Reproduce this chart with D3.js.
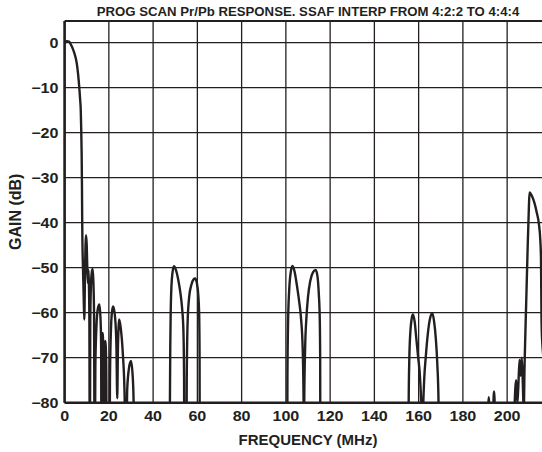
<!DOCTYPE html>
<html>
<head>
<meta charset="utf-8">
<script src="https://cdn.jsdelivr.net/npm/d3@7"></script>
<style>
  html, body { margin: 0; padding: 0; background: #fff; }
  svg { display: block; }
  text { font-family: "Liberation Sans", Arial, sans-serif; font-weight: bold; fill: #231f20; }
</style>
</head>
<body>
<svg id="chart" width="542" height="452"></svg>
<script>
// ---- data (frequency MHz, gain dB) ----
const passband = [[0,0],[1,0.3],[2,0.2],[3,-0.6],[3.9,-1.6],[4.8,-3],[5.5,-4.6],[6.1,-7],[6.6,-9.8],
  [7.0,-12.5],[7.3,-15],[7.5,-19],[7.7,-24.5],[7.85,-32],[7.95,-39.4]];
const nearStopband = [[8.05,-44],[8.3,-50],[8.6,-56],[8.9,-61.5],[9.2,-52],[9.45,-45],[9.7,-42.8],
  [10.0,-45],[10.3,-51],[10.6,-53.5],[10.8,-50.5],[11.0,-54],[11.2,-62],[11.4,-100],
  [11.6,-62],[11.9,-54],[12.3,-51],[12.7,-50.3],[13.0,-53],[13.3,-60],[13.6,-100],
  [13.9,-72],[14.4,-63],[15.0,-59.2],[15.7,-58.2],[16.2,-61],[16.5,-67],[16.7,-100],
  [16.9,-70],[17.2,-64.5],[17.5,-69],[17.7,-100],[18.0,-71],[18.4,-66.3],[18.8,-71],[19.1,-100],
  [20.3,-100],[20.5,-75],[21.0,-63],[21.5,-59.5],[22.0,-58.6],[22.8,-61],[23.4,-67],[23.8,-79],
  [24.1,-68],[24.7,-61.5],[25.4,-63.5],[26.3,-69],[27.1,-78],[27.7,-100],
  [28.3,-77],[29.2,-72],[30.0,-70.7],[30.7,-73.5],[31.2,-80],[31.4,-100]];
const lobes50 = [[47.4,-100],[47.6,-80],[47.75,-68],[47.95,-60],[48.3,-54],[48.8,-51],[49.4,-49.7],
  [50.3,-50.5],[51.3,-52.5],[52.3,-55.5],[53.1,-59],[53.7,-64],[54.0,-75],[54.1,-100],
  [55.0,-100],[55.2,-75],[55.6,-62],[56.3,-56.5],[57.3,-53.8],[58.3,-52.6],[59.0,-52.4],
  [59.8,-53.5],[60.4,-56],[60.8,-60],[61.0,-70],[61.1,-100]];
const lobes105 = [[100.6,-100],[100.7,-75],[101.0,-62],[101.5,-55],[102.2,-51],[103.0,-49.6],
  [104.0,-51],[105.0,-54],[106.0,-57.5],[106.8,-61],[107.6,-68],[108.0,-80],[108.1,-100],
  [108.15,-100],[108.3,-80],[108.7,-68],[109.3,-61],
  [110.0,-56.5],[111.0,-53],[112.3,-51],[113.5,-50.5],[114.3,-52],[114.9,-56],[115.3,-61],
  [115.5,-70],[115.6,-100]];
const lobes160 = [[155.4,-100],[155.5,-80],[155.8,-70],[156.3,-64],[156.8,-61.5],[157.4,-60.4],
  [158.2,-62],[159.0,-66],[159.8,-70],[160.7,-75],[161.4,-85],[161.5,-100],
  [161.8,-100],[161.9,-85],[162.5,-75],[163.2,-70],[164.2,-64.5],[165.2,-61.2],[166.2,-60.1],
  [167.0,-62],[167.8,-66],[168.4,-71],[169.0,-80],[169.2,-100]];
const imageBand = [[191.2,-100],[191.4,-84],[191.7,-78.8],[192.0,-84],[192.2,-100],
  [193.5,-100],[193.7,-82],[194.1,-77.5],[194.5,-84],[194.8,-100],
  [202.8,-100],[203.3,-82],[204.1,-75],[204.6,-80],[205.0,-77],[205.6,-70.5],[206.1,-74],
  [206.6,-70],[207.1,-76],[207.5,-82],[207.9,-71],[208.6,-58],[209.3,-45],[209.8,-37],
  [210.1,-33.3],[211.3,-34.2],[212.4,-35.7],[213.5,-38],[214.3,-40.1],[215.0,-44],
  [215.3,-48],[215.5,-60],[215.8,-66],[217,-72]];
const xTicks = [0,20,40,60,80,100,120,140,160,180,200];
const xGrid = [0,20,40,60,80,100,120,140,160,180,200,220];
const yTicks = [0,-10,-20,-30,-40,-50,-60,-70,-80];
const titleText = "PROG SCAN Pr/Pb RESPONSE. SSAF INTERP FROM 4:2:2 TO 4:4:4";
const xLabel = "FREQUENCY (MHz)";
const yLabel = "GAIN (dB)";

const series = [].concat(passband, nearStopband, [[32,-100],[47,-100]], lobes50,
  [[62,-100],[100,-100]], lobes105, [[116,-100],[155,-100]], lobes160, [[170,-100],[191,-100]], imageBand);

// ---- layout ----
const ink = "#231f20";
const svg = d3.select("#chart");
const x = d3.scaleLinear().domain([0, 220]).range([64.6, 551.4]);
const y = d3.scaleLinear().domain([-80, 4.8]).range([402.7, 21]);
const [x0, x1] = x.range();
const [yb, yt] = y.range();

// grid
const grid = svg.append("g").attr("stroke", ink).attr("stroke-width", 1.3);
grid.selectAll("line.v").data(xGrid).join("line").attr("class","v")
  .attr("x1", d => x(d)).attr("x2", d => x(d)).attr("y1", yt).attr("y2", yb);
grid.selectAll("line.h").data(yTicks).join("line").attr("class","h")
  .attr("x1", x0).attr("x2", x1).attr("y1", d => y(d)).attr("y2", d => y(d));

// curve
svg.append("defs").append("clipPath").attr("id","plotclip")
  .append("rect").attr("x", x0).attr("y", yt).attr("width", x1 - x0).attr("height", yb - yt);
const line = d3.line().x(d => x(d[0])).y(d => y(d[1])).curve(d3.curveMonotoneX);
svg.append("path").datum(series).attr("clip-path","url(#plotclip)")
  .attr("fill","none").attr("stroke", ink).attr("stroke-width", 2.4)
  .attr("stroke-linejoin","round").attr("d", line);

// frame: left, bottom, top
svg.append("line").attr("x1", x0).attr("x2", x1).attr("y1", yb).attr("y2", yb).attr("stroke", ink).attr("stroke-width", 2.6);
svg.append("line").attr("x1", x0).attr("x2", x0).attr("y1", yt).attr("y2", yb).attr("stroke", ink).attr("stroke-width", 2.6);
svg.append("line").attr("x1", x0).attr("x2", x1).attr("y1", yt).attr("y2", yt).attr("stroke", ink).attr("stroke-width", 2.2);

// tick labels (slightly wide lettering, as in the reference)
const fmt = d => d < 0 ? "\u2212" + Math.abs(d) : String(d);
const tickSx = 1.15;
svg.append("g").selectAll("text").data(xTicks).join("text")
  .attr("transform", d => `translate(${x(d)},421) scale(${tickSx},1)`)
  .attr("text-anchor","middle").attr("font-size", 14).text(fmt);
svg.append("g").selectAll("text").data(yTicks).join("text")
  .attr("transform", d => `translate(58.5,${y(d)}) scale(${tickSx},1)`)
  .attr("dy","0.36em").attr("text-anchor","end")
  .attr("font-size", 14).text(fmt);

// titles
svg.append("text").attr("transform", `translate(${(x0 + x1) / 2},16) scale(1.1,1)`)
  .attr("text-anchor","middle").attr("font-size", 12).text(titleText);
svg.append("text").attr("x", (x0 + x1) / 2).attr("y", 444.5).attr("text-anchor","middle")
  .attr("font-size", 15).text(xLabel);
svg.append("text").attr("transform", `translate(20.5,${(yt + yb) / 2}) rotate(-90)`)
  .attr("text-anchor","middle").attr("font-size", 16).text(yLabel);
</script>
</body>
</html>
